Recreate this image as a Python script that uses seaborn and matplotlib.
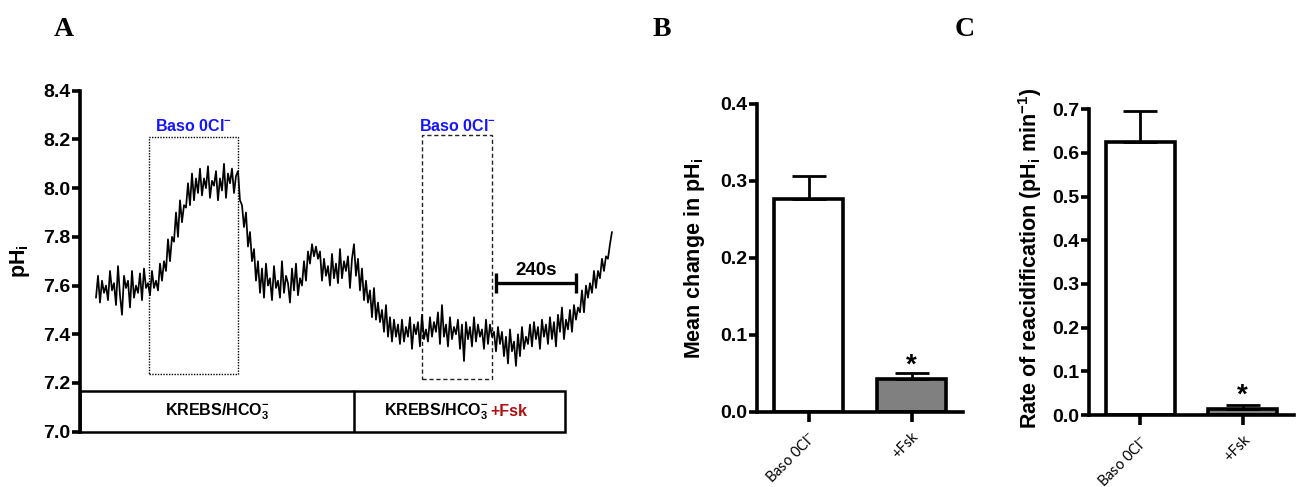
import numpy as np
import pandas as pd
import matplotlib
matplotlib.use("Agg")
import matplotlib.pyplot as plt
import seaborn as sns
from matplotlib.patches import Rectangle

# ---------------- data ----------------
ph_trace = [
    7.55, 7.64, 7.53, 7.62, 7.57, 7.60, 7.54, 7.66, 7.58, 7.61, 7.52, 7.68, 7.56, 7.48,
    7.64, 7.59, 7.62, 7.51, 7.66, 7.55, 7.60, 7.57, 7.65, 7.54, 7.67, 7.59, 7.61,
    7.56, 7.66, 7.59, 7.62, 7.58, 7.69,
    7.62, 7.70, 7.66, 7.79, 7.70, 7.80, 7.78, 7.90, 7.80, 7.95, 7.86, 7.93, 7.92, 8.02,
    7.93, 8.06, 7.95, 8.04, 7.98,
    8.08, 7.97, 8.04, 8.00, 8.09, 7.96, 8.03, 8.01, 8.07, 7.95, 8.04, 7.99, 8.10, 7.96,
    8.06, 8.02, 8.08, 7.98, 8.05,
    8.07, 7.95, 7.93, 7.84, 7.90, 7.76, 7.82, 7.70, 7.75, 7.62, 7.70, 7.57, 7.67,
    7.55, 7.69, 7.60, 7.63, 7.54, 7.68, 7.59, 7.62, 7.55, 7.70, 7.57, 7.64, 7.61, 7.53,
    7.67, 7.58, 7.69, 7.56, 7.63, 7.60, 7.70, 7.62,
    7.74, 7.69, 7.77, 7.72, 7.76, 7.71, 7.74,
    7.62, 7.71, 7.64, 7.68, 7.60, 7.73, 7.63, 7.69, 7.61, 7.75, 7.63, 7.70, 7.66, 7.72,
    7.59, 7.71, 7.77,
    7.64, 7.71, 7.58, 7.67, 7.54, 7.62, 7.53, 7.58, 7.47, 7.59, 7.46, 7.53, 7.45, 7.50,
    7.41, 7.52, 7.39, 7.47, 7.37, 7.46, 7.39, 7.44, 7.36,
    7.46, 7.37, 7.43, 7.39, 7.47, 7.34, 7.44, 7.40, 7.45, 7.35, 7.48, 7.38, 7.42, 7.37,
    7.47, 7.39, 7.45, 7.41, 7.49, 7.36, 7.52, 7.39, 7.44, 7.35, 7.47, 7.38, 7.43, 7.40,
    7.46, 7.34, 7.44, 7.29, 7.45, 7.38, 7.43, 7.35, 7.47, 7.37, 7.44, 7.39, 7.42, 7.34,
    7.46, 7.36, 7.44, 7.39, 7.41, 7.33, 7.43, 7.36,
    7.41, 7.31, 7.39, 7.28, 7.42, 7.33, 7.37, 7.27, 7.40, 7.31, 7.43, 7.34, 7.39, 7.36,
    7.44,
    7.35, 7.45, 7.38, 7.43, 7.34, 7.46, 7.39, 7.44, 7.36, 7.47, 7.38, 7.45, 7.35, 7.48,
    7.41, 7.51, 7.38, 7.46, 7.42, 7.50, 7.41, 7.52, 7.46, 7.51, 7.49, 7.58, 7.49, 7.60,
    7.55, 7.61, 7.57, 7.66, 7.59, 7.66, 7.63, 7.71, 7.66, 7.72, 7.71, 7.77, 7.82,
]
trace_start_s = 48
trace_step_s = 6
a_yticks = [7.0, 7.2, 7.4, 7.6, 7.8, 8.0, 8.2, 8.4]

# Panels B and C
conditions = ["Baso 0Cl$^{-}$", "+Fsk"]
mean_change = [0.277, 0.043]
mean_change_sem = [0.030, 0.007]
reacid_rate = [0.625, 0.013]
reacid_sem = [0.072, 0.010]
b_yticks = [0.0, 0.1, 0.2, 0.3, 0.4]
c_yticks = [0.0, 0.1, 0.2, 0.3, 0.4, 0.5, 0.6, 0.7]

# ---------------- style ----------------
sns.set_style("ticks", {"axes.edgecolor": "black", "text.color": "black",
                        "axes.labelcolor": "black", "xtick.color": "black",
                        "ytick.color": "black"})
plt.rcParams["font.family"] = ["Liberation Sans", "DejaVu Sans"]
plt.rcParams["mathtext.fontset"] = "custom"
plt.rcParams["mathtext.rm"] = "Liberation Sans"
plt.rcParams["mathtext.it"] = "Liberation Sans:italic"
plt.rcParams["mathtext.bf"] = "Liberation Sans:bold"

W, H = 1301, 487
fig = plt.figure(figsize=(W / 100, H / 100), dpi=100)

SPINE_LW = 2.6
BLUE = "#1414ff"
RED = "#b01010"
TICK_FS = 14
LABEL_FS = 15.5

def px_axes(left, top, right, bottom):
    return fig.add_axes([left / W, (H - bottom) / H, (right - left) / W, (bottom - top) / H])

# ---------------- Panel A ----------------
axA = px_axes(80, 90.7, 613.3, 431.7)
t = trace_start_s + trace_step_s * np.arange(len(ph_trace))
df = pd.DataFrame({"time": t, "pH": ph_trace})
sns.lineplot(data=df, x="time", y="pH", ax=axA, color="black", linewidth=1.25)
axA.set_xlim(0, 1600)
axA.set_ylim(7.0, 8.4)
axA.set_yticks(a_yticks)
axA.set_yticklabels([f"{v:.1f}" for v in a_yticks], fontsize=TICK_FS, fontweight="bold")
axA.set_xticks([])
axA.set_xlabel("")
axA.set_ylabel("pH$_\\mathbf{i}$", fontsize=LABEL_FS, fontweight="bold")
axA.yaxis.set_label_coords(-0.09, 0.5)
for s in ["top", "right", "bottom"]:
    axA.spines[s].set_visible(False)
axA.spines["left"].set_linewidth(SPINE_LW)
axA.tick_params(axis="y", length=6, width=SPINE_LW, direction="out", pad=1)

# solution bar (KREBS / KREBS+Fsk)
axA.add_patch(Rectangle((0, 7.0), 1455, 0.168, fill=False, lw=1.8, ec="black", clip_on=False, zorder=3))
axA.plot([822, 822], [7.0, 7.168], color="black", lw=1.8, zorder=3)
axA.text(411, 7.083, "KREBS/HCO$_\\mathbf{3}^\\mathbf{-}$", ha="center", va="center",
         fontsize=11.5, fontweight="bold")
axA.text(1226, 7.083, "KREBS/HCO$_\\mathbf{3}^\\mathbf{-}$", ha="right", va="center",
         fontsize=11.5, fontweight="bold")
axA.text(1232, 7.083, "+Fsk", ha="left", va="center", fontsize=11.5, fontweight="bold", color=RED)

# Baso 0Cl- boxes
axA.add_patch(Rectangle((207, 7.237), 267, 0.974, fill=False, lw=1.0, ec="black", ls=(0, (1, 1)), zorder=1))
axA.add_patch(Rectangle((1025, 7.217), 211, 1.001, fill=False, lw=1.0, ec="#222222", ls=(0, (3, 2)), zorder=1))
axA.text(340, 8.222, "Baso 0Cl$^\\mathbf{-}$", ha="center", va="bottom", fontsize=11.5,
         fontweight="bold", color=BLUE)
axA.text(1132, 8.222, "Baso 0Cl$^\\mathbf{-}$", ha="center", va="bottom", fontsize=11.5,
         fontweight="bold", color=BLUE)

# 240 s scale bar
axA.plot([1248, 1488], [7.61, 7.61], color="black", lw=2.4, solid_capstyle="butt")
axA.plot([1248, 1248], [7.57, 7.65], color="black", lw=2.4, solid_capstyle="butt")
axA.plot([1488, 1488], [7.57, 7.65], color="black", lw=2.4, solid_capstyle="butt")
axA.text(1368, 7.625, "240s", ha="center", va="bottom", fontsize=13.5, fontweight="bold")

# ---------------- bar panels ----------------
def bar_panel(ax, vals, sems, yticks, ylabel, star_y, label_x, label_y):
    d = pd.DataFrame({"cond": conditions, "val": vals})
    sns.barplot(data=d, x="cond", y="val", hue="cond", palette=["white", "#808080"],
                edgecolor="black", linewidth=2.6, width=0.67, ax=ax, legend=False,
                order=conditions, hue_order=conditions)
    ax.errorbar([0, 1], vals, yerr=[[0, 0], sems], fmt="none", ecolor="black",
                elinewidth=2, capsize=12, capthick=2, zorder=1)
    ax.set_xlim(-0.5, 1.5)
    ax.set_ylim(0, yticks[-1])
    ax.set_yticks(yticks)
    ax.set_yticklabels([f"{v:.1f}" for v in yticks], fontsize=TICK_FS, fontweight="bold")
    ax.set_xticks([0, 1])
    ax.set_xticklabels(conditions, rotation=45, ha="right", rotation_mode="anchor",
                       fontsize=10.5, fontweight="normal", family=["Lato", "DejaVu Sans"])
    ax.set_xlabel("")
    ax.set_ylabel(ylabel, fontsize=LABEL_FS, fontweight="bold")
    ax.yaxis.set_label_coords(label_x, label_y)
    for s in ["top", "right"]:
        ax.spines[s].set_visible(False)
    for s in ["left", "bottom"]:
        ax.spines[s].set_linewidth(SPINE_LW)
    ax.tick_params(axis="y", length=6, width=SPINE_LW, direction="out", pad=1)
    ax.tick_params(axis="x", length=7, width=SPINE_LW, direction="out", pad=6)
    ax.text(1, star_y, "*", ha="center", va="center", fontsize=20, fontweight="bold")

axB = px_axes(757, 104, 963, 411.7)
bar_panel(axB, mean_change, mean_change_sem, b_yticks, "Mean change in pH$_\\mathbf{i}$",
          0.060, -0.243, 0.498)

axC = px_axes(1089, 109.3, 1294, 415)
bar_panel(axC, reacid_rate, reacid_sem, c_yticks,
          "Rate of reacidification (pH$_\\mathbf{i}$ min$^\\mathbf{-1}$)", 0.045, -0.22, 0.512)

# panel letters
for lbl, x, y in [("A", 64, 30), ("B", 662, 29), ("C", 965, 29)]:
    fig.text(x / W, 1 - y / H, lbl, ha="center", va="center", fontsize=20,
             fontweight="bold", family=["Liberation Serif", "DejaVu Serif"])

fig.savefig("out.png", dpi=100)
